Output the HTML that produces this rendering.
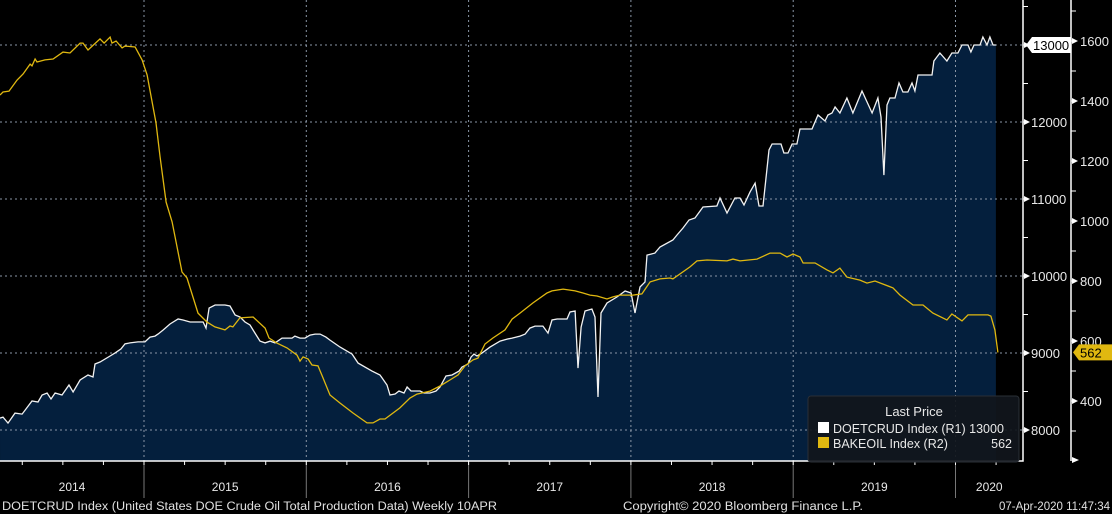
<!DOCTYPE html>
<html><head><meta charset="utf-8"><style>
html,body{margin:0;padding:0;background:#000;width:1112px;height:514px;overflow:hidden}
svg{display:block;font-family:"Liberation Sans",sans-serif}
</style></head><body>
<svg id="chart" width="1112" height="514"></svg>
<script>
const r1Dates=[2014.113,2014.131,2014.162,2014.205,2014.249,2014.310,2014.347,2014.372,2014.403,2014.427,2014.452,2014.495,2014.538,2014.563,2014.606,2014.655,2014.686,2014.698,2014.729,2014.791,2014.822,2014.858,2014.883,2014.914,2014.963,2015.006,2015.037,2015.068,2015.086,2015.117,2015.160,2015.210,2015.240,2015.284,2015.364,2015.382,2015.401,2015.438,2015.499,2015.530,2015.561,2015.592,2015.622,2015.653,2015.684,2015.715,2015.746,2015.777,2015.807,2015.850,2015.912,2015.930,2015.961,2015.992,2016.023,2016.054,2016.085,2016.121,2016.146,2016.208,2016.282,2016.319,2016.405,2016.454,2016.497,2016.516,2016.547,2016.571,2016.602,2016.621,2016.645,2016.676,2016.701,2016.725,2016.762,2016.799,2016.824,2016.861,2016.898,2016.941,2016.959,2016.996,2017.015,2017.033,2017.052,2017.083,2017.132,2017.194,2017.237,2017.268,2017.317,2017.348,2017.378,2017.409,2017.458,2017.489,2017.514,2017.545,2017.606,2017.625,2017.656,2017.674,2017.693,2017.717,2017.760,2017.779,2017.797,2017.816,2017.853,2017.914,2017.964,2018.001,2018.025,2018.056,2018.087,2018.099,2018.148,2018.179,2018.259,2018.284,2018.321,2018.358,2018.395,2018.444,2018.530,2018.549,2018.592,2018.641,2018.672,2018.697,2018.734,2018.765,2018.789,2018.814,2018.851,2018.870,2018.925,2018.943,2018.968,2018.993,2019.023,2019.042,2019.116,2019.153,2019.196,2019.214,2019.239,2019.258,2019.288,2019.331,2019.368,2019.424,2019.486,2019.522,2019.541,2019.559,2019.578,2019.596,2019.627,2019.652,2019.676,2019.707,2019.732,2019.750,2019.769,2019.855,2019.867,2019.904,2019.947,2019.978,2020.015,2020.040,2020.077,2020.095,2020.114,2020.151,2020.169,2020.194,2020.212,2020.231,2020.249];
const r1Values=[8155,8168,8090,8220,8207,8376,8363,8454,8480,8402,8480,8454,8584,8493,8649,8714,8688,8857,8883,8961,9001,9053,9118,9131,9144,9144,9207,9220,9246,9298,9376,9441,9428,9402,9402,9324,9584,9623,9623,9610,9493,9467,9402,9363,9259,9155,9131,9155,9131,9194,9194,9220,9194,9194,9233,9246,9246,9207,9168,9077,8986,8869,8765,8714,8584,8454,8467,8506,8480,8558,8506,8506,8506,8480,8480,8506,8558,8701,8714,8765,8817,8857,8947,8986,8961,9001,9077,9155,9181,9194,9220,9246,9324,9350,9350,9259,9428,9441,9441,9532,9545,8804,9337,9545,9571,9467,8428,9519,9649,9727,9805,9779,9519,9857,9922,10272,10298,10376,10467,10532,10623,10727,10753,10896,10909,11013,10818,11013,11013,10922,11090,11207,10909,10909,11636,11714,11714,11597,11597,11714,11714,11909,11909,12091,12013,12091,12117,12195,12117,12312,12117,12402,12117,12312,12065,11311,12221,12312,12312,12506,12390,12390,12506,12402,12610,12610,12792,12896,12792,12896,12896,13000,13000,12909,13000,13000,13104,13000,13104,13000,13000];
const r2Dates=[2014.113,2014.131,2014.168,2014.218,2014.255,2014.298,2014.310,2014.329,2014.341,2014.390,2014.440,2014.501,2014.544,2014.606,2014.624,2014.655,2014.729,2014.754,2014.791,2014.803,2014.828,2014.865,2014.883,2014.945,2014.988,2015.019,2015.074,2015.099,2015.136,2015.173,2015.234,2015.265,2015.333,2015.388,2015.437,2015.499,2015.530,2015.548,2015.591,2015.672,2015.746,2015.770,2015.819,2015.881,2015.943,2015.961,2015.980,2016.011,2016.035,2016.072,2016.103,2016.146,2016.208,2016.288,2016.374,2016.411,2016.454,2016.485,2016.577,2016.639,2016.682,2016.762,2016.824,2016.885,2016.935,2016.978,2017.027,2017.058,2017.101,2017.150,2017.224,2017.268,2017.317,2017.397,2017.483,2017.514,2017.582,2017.656,2017.705,2017.748,2017.791,2017.853,2017.890,2017.933,2018.013,2018.068,2018.118,2018.179,2018.241,2018.259,2018.364,2018.407,2018.469,2018.592,2018.629,2018.672,2018.777,2018.857,2018.919,2018.962,2018.999,2019.042,2019.061,2019.135,2019.208,2019.245,2019.288,2019.331,2019.411,2019.455,2019.504,2019.615,2019.658,2019.738,2019.800,2019.861,2019.947,2019.978,2020.040,2020.077,2020.200,2020.218,2020.243,2020.261];
const r2Values=[1420,1430,1433,1470,1490,1523,1517,1540,1530,1537,1540,1563,1560,1593,1593,1570,1607,1593,1613,1593,1600,1577,1583,1580,1537,1487,1327,1213,1063,997,830,810,693,663,647,637,650,647,677,680,643,610,593,577,553,533,547,540,520,517,477,420,393,360,327,327,340,340,377,410,423,433,450,470,487,517,537,543,590,610,637,673,693,727,760,767,773,767,760,753,750,740,747,753,753,757,797,807,810,807,847,867,870,867,873,867,873,893,893,880,890,880,860,860,837,827,843,813,803,793,800,777,753,720,720,693,670,690,667,687,687,683,637,562];
const yearLabels=["2014","2015","2016","2017","2018","2019","2020"];
const r1Ticks=[8000,9000,10000,11000,12000,13000];
const r2Ticks=[400,600,800,1000,1200,1400,1600];

const NS="http://www.w3.org/2000/svg";
const svg=document.getElementById('chart');
const PL=0,PR=1023,PT=0,PB=461;
const xS=t=>144+(t-2015)*162.3;
const y1=v=>45+(13000-v)*0.077;
const y2=v=>41+(1600-v)*0.3;
function mk(tag,attrs,parent){const e=document.createElementNS(NS,tag);for(const k in attrs)e.setAttribute(k,attrs[k]);(parent||svg).appendChild(e);return e;}

// area for R1
let d=`M${xS(r1Dates[0])},${PB}`;
r1Dates.forEach((t,i)=>{d+=` L${xS(t).toFixed(1)},${y1(r1Values[i]).toFixed(1)}`;});
d+=` L${xS(r1Dates[r1Dates.length-1]).toFixed(1)},${PB} Z`;
const area=mk('path',{d:d,fill:'#041f3d'});



// gridlines
r1Ticks.forEach(v=>{const g=mk('line',{x1:0,x2:PR,y1:y1(v),y2:y1(v),stroke:'#8a96a6','stroke-width':1,'stroke-dasharray':'2,3'});

});
for(let yr=2015;yr<=2020;yr++){const x=xS(yr);
const g=mk('line',{x1:x,x2:x,y1:0,y2:PB,stroke:'#8a96a6','stroke-width':1,'stroke-dasharray':'2,3'});


const s=mk('line',{x1:x,x2:x,y1:PB,y2:498,stroke:'#777','stroke-width':1});

}

// lines
let p1='';r1Dates.forEach((t,i)=>{p1+=(i?' L':'M')+xS(t).toFixed(1)+','+y1(r1Values[i]).toFixed(1);});
const l1=mk('path',{d:p1,fill:'none',stroke:'#f2f2f2','stroke-width':1.3});


let p2='';r2Dates.forEach((t,i)=>{p2+=(i?' L':'M')+xS(t).toFixed(1)+','+y2(r2Values[i]).toFixed(1);});
const l2=mk('path',{d:p2,fill:'none',stroke:'#e0b810','stroke-width':1.3});



// axes frame
const ax=mk('path',{d:`M0,${PB} H${PR} V0`,fill:'none',stroke:'#fff','stroke-width':1.5});


const ax2=mk('line',{x1:1071,x2:1071,y1:0,y2:461,stroke:'#fff','stroke-width':1.5});


// bottom minor ticks (quarters)
for(let q=2014.25;q<2020.3;q+=0.25){const x=xS(q);if(x<0||x>PR)continue;
const t=mk('line',{x1:x,x2:x,y1:PB,y2:PB+4,stroke:'#fff','stroke-width':1});

}

// R1 ticks + labels
for(let v=7500;v<=13500;v+=500){const y=y1(v);if(y<0||y>PB)continue;
const t=mk('line',{x1:PR,x2:PR+5,y1:y,y2:y,stroke:'#fff','stroke-width':1});

}
r1Ticks.forEach(v=>{const y=y1(v);
const a=mk('path',{d:`M${PR+1},${y-3} L${PR+7},${y} L${PR+1},${y+3}Z`,fill:'#fff'});


const tx=mk('text',{x:PR+8,y:y+5,fill:'#e8e8e8','font-size':13});tx.textContent=v;

});
// R2 ticks
for(let v=300;v<=1700;v+=100){const y=y2(v);if(y<0||y>PB)continue;
const t=mk('line',{x1:1071,x2:1076,y1:y,y2:y,stroke:'#fff','stroke-width':1});

}
r2Ticks.forEach(v=>{const y=y2(v);
const a=mk('path',{d:`M1072,${y-3} L1078,${y} L1072,${y+3}Z`,fill:'#fff'});


const tx=mk('text',{x:1080,y:y+5,fill:'#e8e8e8','font-size':13});tx.textContent=v;

});
const bt=mk('path',{d:'M1072,457 L1079,460 L1072,463Z',fill:'#fff'});



// last value tags
const lastR1=r1Values[r1Values.length-1], lastR2=r2Values[r2Values.length-1];
const ty1=y1(lastR1);
const tg1=mk('path',{d:`M1026,${ty1} L1032,${ty1-8} H1071 V${ty1+8} H1032Z`,fill:'#fff'});


const tt1=mk('text',{x:1033,y:ty1+5,fill:'#000','font-size':13});tt1.textContent=lastR1;


const ty2=y2(lastR2);
const tg2=mk('path',{d:`M1073,${ty2} L1079,${ty2-8} H1112 V${ty2+8} H1079Z`,fill:'#e0b810'});


const tt2=mk('text',{x:1080,y:ty2+5,fill:'#000','font-size':13});tt2.textContent=lastR2;



// year labels
yearLabels.forEach((lb,i)=>{const yr=2014+i;
const x0=Math.max(0,xS(yr)),x1=Math.min(PR,xS(yr+1));
const tx=mk('text',{x:(x0+x1)/2,y:491,fill:'#e8e8e8','font-size':12,'text-anchor':'middle'});tx.textContent=lb;

});

// legend
const lg=mk('g',{});


mk('rect',{x:808,y:396,width:211,height:66,rx:3,fill:'#11161c','fill-opacity':0.93,stroke:'#2a2f36'},lg);
const lt=mk('text',{x:914,y:416,fill:'#e8e8e8','font-size':13,'text-anchor':'middle'},lg);lt.textContent='Last Price';


mk('rect',{x:818,y:422,width:11,height:11,fill:'#fff'},lg);
mk('rect',{x:818,y:437,width:11,height:11,fill:'#e0b810'},lg);
const e1=mk('text',{x:833,y:433,fill:'#e8e8e8','font-size':12.5},lg);e1.textContent='DOETCRUD Index  (R1) 13000';


const e2=mk('text',{x:833,y:448,fill:'#e8e8e8','font-size':12.5},lg);e2.textContent='BAKEOIL Index  (R2)';


const e3=mk('text',{x:1012,y:448,fill:'#e8e8e8','font-size':12.5,'text-anchor':'end'},lg);e3.textContent='562';



// footer
const f1=mk('text',{x:2,y:510,fill:'#e0e0e0','font-size':11.5,textLength:495,lengthAdjust:'spacingAndGlyphs'});f1.textContent='DOETCRUD Index (United States DOE Crude Oil Total Production Data)  Weekly 10APR';


const f2=mk('text',{x:623,y:510,fill:'#e0e0e0','font-size':11.5,textLength:240,lengthAdjust:'spacingAndGlyphs'});f2.textContent='Copyright© 2020 Bloomberg Finance L.P.';


const f3=mk('text',{x:1110,y:510,fill:'#e0e0e0','font-size':11.5,'text-anchor':'end'});f3.textContent='07-Apr-2020 11:47:34';


</script>
</body></html>
